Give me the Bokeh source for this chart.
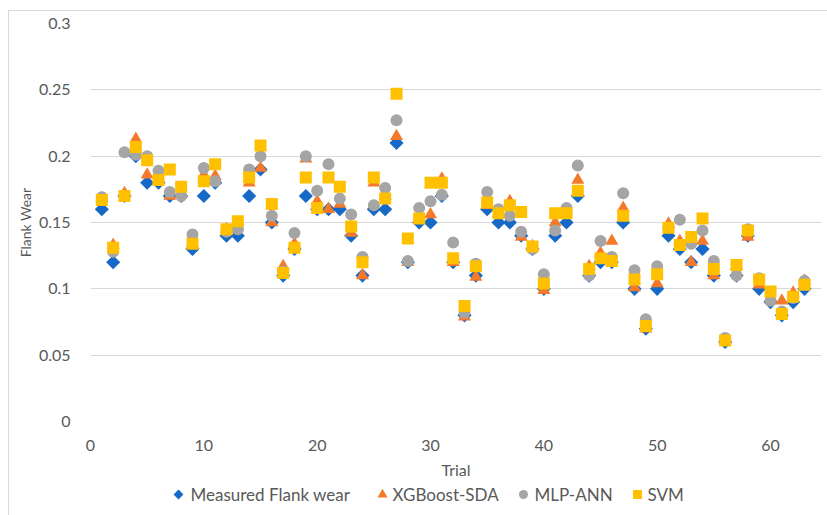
import math
from bokeh.plotting import figure
from bokeh.layouts import column
from bokeh.models import ColumnDataSource, FixedTicker, Range1d, InlineStyleSheet
from bokeh.core.properties import value
from bokeh.embed import file_html
from bokeh.resources import INLINE

# Trial numbers and flank wear: measured vs. three model predictions
trials = list(range(1, 64))

measured = [0.16, 0.12, 0.17, 0.2, 0.18, 0.18, 0.17, 0.17, 0.13, 0.17,
            0.18, 0.14, 0.14, 0.17, 0.19, 0.15, 0.11, 0.13, 0.17, 0.16,
            0.16, 0.16, 0.14, 0.11, 0.16, 0.16, 0.21, 0.12, 0.15, 0.15,
            0.17, 0.12, 0.08, 0.11, 0.16, 0.15, 0.15, 0.14, 0.13, 0.1,
            0.14, 0.15, 0.17, 0.11, 0.12, 0.12, 0.15, 0.1, 0.07, 0.1,
            0.14, 0.13, 0.12, 0.13, 0.11, 0.06, 0.11, 0.14, 0.1, 0.09,
            0.08, 0.09, 0.1]

xgboost_sda = [0.168, 0.133, 0.172, 0.213, 0.186, 0.182, 0.17, 0.171, 0.134, 0.186,
               0.185, 0.145, 0.147, 0.18, 0.191, 0.15, 0.117, 0.134, 0.198, 0.166,
               0.16, 0.164, 0.142, 0.11, 0.18, 0.17, 0.215, 0.12, 0.155, 0.156,
               0.183, 0.12, 0.079, 0.109, 0.163, 0.157, 0.166, 0.139, 0.132, 0.099,
               0.15, 0.16, 0.182, 0.117, 0.127, 0.136, 0.161, 0.101, 0.07, 0.104,
               0.149, 0.136, 0.12, 0.136, 0.11, 0.061, 0.117, 0.139, 0.103, 0.093,
               0.091, 0.097, 0.106]

mlp_ann = [0.169, 0.128, 0.203, 0.201, 0.2, 0.189, 0.173, 0.17, 0.141, 0.191,
           0.181, 0.143, 0.145, 0.19, 0.2, 0.155, 0.113, 0.142, 0.2, 0.174,
           0.194, 0.168, 0.156, 0.124, 0.163, 0.176, 0.227, 0.121, 0.161, 0.166,
           0.171, 0.135, 0.082, 0.119, 0.173, 0.16, 0.155, 0.143, 0.13, 0.111,
           0.144, 0.161, 0.193, 0.11, 0.136, 0.124, 0.172, 0.114, 0.077, 0.117,
           0.146, 0.152, 0.134, 0.144, 0.121, 0.063, 0.11, 0.145, 0.108, 0.091,
           0.083, 0.093, 0.106]

svm = [0.167, 0.131, 0.17, 0.207, 0.197, 0.182, 0.19, 0.177, 0.134, 0.181,
       0.194, 0.145, 0.151, 0.184, 0.208, 0.164, 0.112, 0.131, 0.184, 0.161,
       0.184, 0.177, 0.147, 0.12, 0.184, 0.168, 0.247, 0.138, 0.153, 0.18,
       0.18, 0.123, 0.087, 0.117, 0.165, 0.157, 0.163, 0.158, 0.132, 0.104,
       0.157, 0.157, 0.174, 0.115, 0.123, 0.121, 0.155, 0.107, 0.072, 0.111,
       0.146, 0.133, 0.139, 0.153, 0.115, 0.061, 0.118, 0.144, 0.107, 0.098,
       0.081, 0.094, 0.103]

x_ticks = [0, 10, 20, 30, 40, 50, 60]
y_ticks = [0, 0.05, 0.1, 0.15, 0.2, 0.25, 0.3]
y_tick_labels = ["0", "0.05", "0.1", "0.15", "0.2", "0.25", "0.3"]

series_names = ["Measured Flank wear", "XGBoost-SDA", "MLP-ANN", "SVM"]

FONT = "Lato"
TEXT = "#595959"
GRID = "#d9d9d9"
BLUE, ORANGE, GREY, GOLD = "#1769c8", "#f47a2a", "#a5a5a5", "#ffc000"

LEFT, RIGHT = 90, 6          # side borders shared by chart and legend strip
W = 827

src = ColumnDataSource(dict(trial=trials, measured=measured, xgb=xgboost_sda,
                            mlp=mlp_ann, svm=svm))

p = figure(frame_width=W - LEFT - RIGHT, frame_height=398, x_range=(0, 64.5),
           y_range=(0, 0.3), output_backend="svg", toolbar_location=None,
           min_border_left=LEFT, min_border_right=RIGHT, min_border_top=23,
           min_border_bottom=59)
p.outline_line_color = None
p.background_fill_color = None
p.border_fill_color = None

# Drawing order: measured at the bottom, SVM on top
p.scatter("trial", "measured", source=src, marker="square", angle=math.pi / 4,
          size=10, fill_color=BLUE, line_color=None)
p.scatter("trial", "xgb", source=src, marker="triangle", size=13,
          fill_color=ORANGE, line_color=None)
p.scatter("trial", "mlp", source=src, marker="circle", size=12,
          fill_color=GREY, line_color=None)
p.scatter("trial", "svm", source=src, marker="square", size=12,
          fill_color=GOLD, line_color=None)

# Axes
p.xaxis.ticker = FixedTicker(ticks=x_ticks)
p.yaxis.ticker = FixedTicker(ticks=y_ticks)
p.yaxis.major_label_overrides = {t: s for t, s in zip(y_ticks, y_tick_labels)}
p.xaxis.major_label_overrides = {t: str(t) for t in x_ticks}
for ax in (p.xaxis[0], p.yaxis[0]):
    ax.axis_line_color = None
    ax.major_tick_line_color = None
    ax.minor_tick_line_color = None
    ax.major_label_text_font = FONT
    ax.major_label_text_font_size = "16px"
    ax.major_label_text_color = TEXT
    ax.axis_label_text_font = FONT
    ax.axis_label_text_font_style = "normal"
    ax.axis_label_text_color = TEXT
p.xaxis.axis_label = "Trial"
p.yaxis.axis_label = "Flank Wear"
p.xaxis.axis_label_text_font_size = "16px"
p.yaxis.axis_label_text_font_size = "14px"
p.xaxis.major_label_standoff = 12
p.yaxis.major_label_standoff = 14
p.xaxis.axis_label_standoff = 6
p.yaxis.axis_label_standoff = 2

p.xgrid.grid_line_color = None
p.ygrid.grid_line_color = GRID
p.ygrid.grid_line_width = 1

# Legend strip under the chart; its x range spans the same pixels as its frame,
# so x values are page pixels, and y is measured downward
leg = figure(frame_width=W - LEFT - RIGHT, frame_height=35,
             x_range=Range1d(LEFT, W - RIGHT), y_range=Range1d(35, 0),
             output_backend="svg", toolbar_location=None,
             min_border_left=LEFT, min_border_right=RIGHT,
             min_border_top=0, min_border_bottom=0)
leg.axis.visible = False
leg.grid.grid_line_color = None
leg.outline_line_color = None
leg.background_fill_color = None
leg.border_fill_color = None

key_x = [178, 382, 523, 637]
label_x = [190, 392, 534, 647]
key_y = 13
leg.scatter([key_x[0]], [key_y], marker="square", angle=math.pi / 4, size=7,
            fill_color=BLUE, line_color=None)
leg.scatter([key_x[1]], [key_y], marker="triangle", size=10,
            fill_color=ORANGE, line_color=None)
leg.scatter([key_x[2]], [key_y], marker="circle", size=9,
            fill_color=GREY, line_color=None)
leg.scatter([key_x[3]], [key_y], marker="square", size=9,
            fill_color=GOLD, line_color=None)
leg.text(x=label_x, y=[key_y] * 4, text=series_names,
         text_font=value(FONT), text_font_size="17px", text_color=TEXT,
         text_align="left", text_baseline="middle")

# Chart-area border line along the left and top edges
border_css = InlineStyleSheet(css="""
:host { position: relative; }
:host::after {
  content: ""; position: absolute; left: 8px; top: 10px;
  width: calc(100% - 8px); height: calc(100% - 10px);
  border-left: 1px solid #d9d9d9; border-top: 1px solid #d9d9d9;
  box-sizing: border-box; pointer-events: none;
}
""")
layout = column(p, leg, spacing=0, stylesheets=[border_css])

open("out.html", "w").write(file_html(layout, INLINE))
